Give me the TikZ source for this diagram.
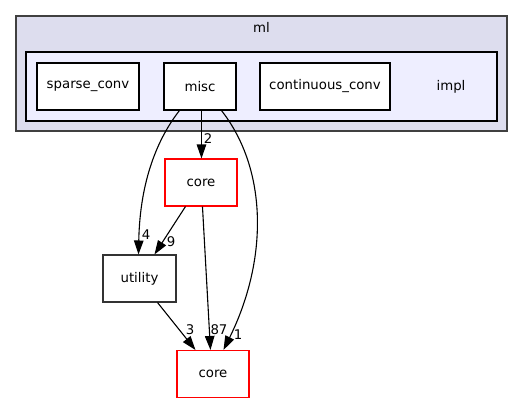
\documentclass[tikz,border=0pt]{standalone}
\usepackage{fontspec}
\setmainfont{DejaVu Sans}
\usetikzlibrary{arrows.meta,calc}
\definecolor{mlfill}{HTML}{DDDDEE}
\definecolor{implfill}{HTML}{EEEEFF}
\tikzset{
  box/.style={draw=black,fill=white,line width=1.05pt,minimum width=#1,minimum height=47pt,inner sep=0pt,font=\fontsize{13.3}{15}\selectfont},
  redbox/.style={box=#1,draw=red},
  edge/.style={line width=1.1pt,-{Triangle[length=14pt,width=9.5pt]}},
  elabel/.style={font=\fontsize{13.3}{15}\selectfont,inner sep=0pt}
}
\begin{document}
\begin{tikzpicture}[x=1pt,y=-1pt]
\useasboundingbox (0,0) rectangle (525,404);
\node[draw=black!75,fill=mlfill,line width=1.3pt,minimum width=491pt,minimum height=115pt,inner sep=0pt] (ml) at (261.5,73.5) {};
\node[font=\fontsize{13.3}{15}\selectfont] (mllabel) at (261.5,27) {ml};
\node[draw=black,fill=implfill,line width=1.1pt,minimum width=471pt,minimum height=69pt,inner sep=0pt] (impl) at (261.5,86.5) {};
\node[font=\fontsize{13.3}{15}\selectfont] (impllabel) at (451,86.5) {impl};
\node[box=102pt] (sparse) at (88,86.5) {sparse\_conv};
\node[box=72pt] (misc) at (200,86.5) {misc};
\node[box=130pt] (cont) at (325,86.5) {continuous\_conv};
\node[redbox=72pt] (core1) at (201,182.5) {core};
\node[box=73pt,draw=black!80] (util) at (139.5,278.5) {utility};
\node[redbox=72pt] (core2) at (213,374) {core};

% misc -> core1
\draw[edge] ($(misc.south west)+(38,0)$) -- ($(core1.north west)+(37,0)$);
\node[elabel] (l2) at (208,139) {2};
% misc -> utility
\draw[edge] ($(misc.south west)+(16,0)$) .. controls (158,138) and (140,180) .. ($(util.north west)+(36,0)$);
\node[elabel] (l4) at (146,235) {4};
% misc -> core2
\draw[edge] ($(misc.south west)+(58,0)$) .. controls (268,170) and (268,260) .. ($(core2.north west)+(47,0)$);
\node[elabel] (l1) at (238,335) {1};
% core1 -> util
\draw[edge] ($(core1.south west)+(21,0)$) -- ($(util.north west)+(52,0)$);
\node[elabel] (l9) at (171,242) {9};
% core1 -> core2
\draw[edge] ($(core1.south west)+(38,0)$) -- ($(core2.north west)+(34,0)$);
\node[elabel] (l87) at (219,330) {87};
% util -> core2
\draw[edge] ($(util.south west)+(55,0)$) -- ($(core2.north west)+(19,0)$);
\node[elabel] (l3) at (190,330) {3};
\end{tikzpicture}
\end{document}
